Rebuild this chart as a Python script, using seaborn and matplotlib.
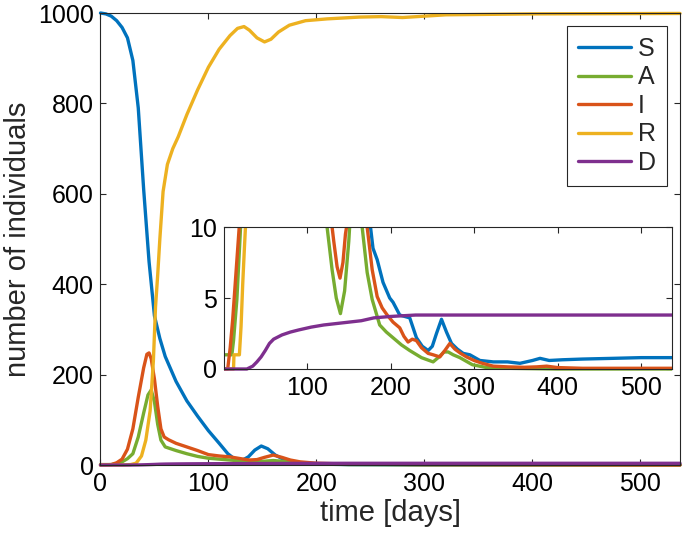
"""SAIRD epidemic curves with a zoomed inset, drawn with seaborn."""
import matplotlib
matplotlib.use('Agg')
import matplotlib.pyplot as plt
from matplotlib.patches import Rectangle
import seaborn as sns

# ---- main panel data (days, individuals) ----
s_t = [0, 5, 10, 15, 20, 25, 30, 35, 40, 45, 50, 55, 60, 70, 80, 90, 100, 110,
       118, 125, 131, 137, 143, 149, 155, 162, 170, 180, 190, 200, 230, 300, 400, 537]
s_v = [1000, 998, 993, 983, 968, 945, 895, 790, 610, 450, 330, 280, 240, 185, 142,
       108, 76, 48, 25, 12, 10, 18, 33, 42, 36, 22, 12, 6, 3, 2, 1, 0.5, 0.5, 0.8]

a_t = [0, 10, 15, 20, 25, 30, 35, 40, 44, 47, 50, 53, 56, 60, 70, 80, 90, 100,
       110, 120, 130, 140, 150, 160, 170, 180, 200, 230, 300, 537]
a_v = [1, 1, 3, 7, 14, 25, 62, 115, 155, 166, 140, 90, 55, 40, 32, 25, 19, 15,
       13, 11, 9, 7, 8, 10, 8, 5, 3, 1, 0.5, 0]

i_t = [0, 10, 15, 20, 25, 30, 35, 40, 43, 45, 47, 50, 53, 56, 59, 63, 70, 80, 90,
       100, 110, 120, 130, 138, 145, 152, 160, 168, 176, 185, 200, 230, 300, 537]
i_v = [0, 1, 5, 13, 35, 80, 150, 215, 245, 248, 235, 190, 130, 80, 62, 56, 48, 40,
       32, 23, 20, 18, 14, 11, 12, 17, 22, 17, 11, 7, 4, 2, 1, 0]

r_t = [0, 20, 28, 33, 38, 42, 46, 49, 51, 53, 55, 58, 62, 67, 72, 80, 90, 100, 110,
       120, 127, 133, 138, 145, 152, 158, 165, 175, 190, 210, 240, 260, 280, 320, 400, 537]
r_v = [0, 0, 1, 4, 20, 55, 120, 230, 350, 420, 500, 605, 665, 700, 726, 775, 830,
       880, 920, 950, 966, 970, 962, 945, 936, 942, 958, 973, 983, 987, 991, 992,
       990, 996, 998, 999]

# deceased (shared by both panels)
d_t = [0, 28, 35, 40, 45, 50, 55, 60, 70, 80, 90, 105, 120, 135, 150, 165, 180,
       200, 230, 537]
d_v = [0, 0, 0.2, 0.5, 0.85, 1.3, 1.8, 2.1, 2.4, 2.6, 2.75, 2.95, 3.1, 3.2, 3.3,
       3.4, 3.6, 3.7, 3.8, 3.8]

# ---- inset data (zoom on 0..10 individuals) ----
in_s_t = [0, 170, 175, 179, 184, 191, 199, 203, 211, 217, 223, 231, 238, 245, 250,
          255, 261, 267, 273, 280, 287, 295, 307, 323, 340, 355, 370, 379, 390, 406,
          430, 466, 500, 537]
in_s_v = [20, 14, 10.5, 8.5, 7.7, 6.1, 5.0, 4.7, 3.8, 3.7, 3.6, 2.2, 1.6, 1.3, 1.6,
          2.5, 3.5, 2.6, 1.8, 1.4, 1.1, 1.0, 0.6, 0.5, 0.5, 0.4, 0.6, 0.75, 0.6,
          0.65, 0.7, 0.75, 0.8, 0.8]

in_a_t = [0, 10, 12, 16, 20, 22, 120, 124, 130, 135, 140, 145, 150, 153, 163, 166,
          172, 178, 187, 195, 203, 213, 223, 237, 251, 259, 264, 269, 275, 283, 298,
          315, 340, 400, 537]
in_a_v = [1, 1, 2, 4.9, 9.5, 12, 12, 10, 7.0, 5.0, 3.9, 5.5, 9, 12, 12, 10, 6.8,
          4.9, 3.1, 2.6, 2.2, 1.7, 1.3, 0.8, 0.5, 0.9, 1.2, 1.2, 1.0, 0.8, 0.3, 0.1,
          0.05, 0, 0]

in_i_t = [0, 5, 8, 11, 14, 17, 20, 128, 132, 136, 139.5, 143, 146, 150, 170, 172,
          178, 184, 190, 196, 203, 211, 216, 221, 226, 231, 237, 245, 251, 259, 265,
          271, 277, 284, 291, 300, 310, 323, 340, 360, 375, 387, 400, 430, 537]
in_i_v = [0, 0, 1.5, 3.5, 6, 8.5, 11, 11, 9, 7.2, 6.4, 7.5, 9.5, 11, 11, 10, 7, 5.1,
          4.3, 3.8, 3.3, 2.9, 2.3, 1.9, 2.1, 2.0, 1.5, 1.1, 1.0, 0.85, 1.3, 1.8, 1.4,
          1.1, 0.85, 0.6, 0.4, 0.2, 0.15, 0.12, 0.15, 0.2, 0.1, 0.05, 0.05]

in_r_t = [0, 12, 12.5, 19, 21, 23, 25, 28, 30, 537]
in_r_v = [0, 0, 1, 1, 3, 6, 8.5, 12, 13, 999]

labels = ['S', 'A', 'I', 'R', 'D']
colors = ['#0072BD', '#77AC30', '#D95319', '#EDB120', '#7E2F8E']

sns.set_theme(style="ticks", rc={
    "axes.edgecolor": "#262626",
    "axes.linewidth": 0.8,
    "xtick.direction": "in",
    "ytick.direction": "in",
    "xtick.top": True,
    "ytick.right": True,
    "xtick.major.size": 4.5,
    "ytick.major.size": 4.5,
    "xtick.major.width": 0.8,
    "ytick.major.width": 0.8,
    "xtick.color": "#262626",
    "ytick.color": "#262626",
    "xtick.labelcolor": "black",
    "ytick.labelcolor": "black",
})
# narrow Helvetica-like face, as in the original MATLAB export
plt.rcParams['font.family'] = ['Liberation Sans Narrow', 'Liberation Sans', 'DejaVu Sans']

TICK_FS = 18
LABEL_FS = 21

fig = plt.figure(figsize=(6.85, 5.44), dpi=100)
ax = fig.add_axes([0.1467, 0.1452, 0.846, 0.8309])

main = [(s_t, s_v), (a_t, a_v), (i_t, i_v), (r_t, r_v), (d_t, d_v)]
for (t, v), lab, col in zip(main, labels, colors):
    sns.lineplot(x=t, y=v, ax=ax, color=col, linewidth=2.4, label=lab,
                 estimator=None, sort=False)
for ln in ax.lines:
    ln.set_clip_on(False)

ax.set_xlim(0, 537)
ax.set_ylim(0, 1000)
ax.set_xticks([0, 100, 200, 300, 400, 500])
ax.set_yticks([0, 200, 400, 600, 800, 1000])
ax.tick_params(labelsize=TICK_FS, pad=5)
ax.set_xlabel('time [days]', fontsize=LABEL_FS, labelpad=2)
ax.set_ylabel('number of individuals', fontsize=LABEL_FS, labelpad=4)
leg = ax.legend(loc='upper right', fontsize=TICK_FS, frameon=True, fancybox=False,
                edgecolor='#262626', framealpha=1, handlelength=2.1,
                handletextpad=0.3, labelspacing=0.18, borderpad=0.45,
                borderaxespad=0.5)
leg.get_frame().set_linewidth(0.8)

# ---- inset ----
axin = fig.add_axes([0.3263, 0.3217, 0.6547, 0.261])
axin.set_facecolor('white')
inset = [(in_s_t, in_s_v), (in_a_t, in_a_v), (in_i_t, in_i_v),
         (in_r_t, in_r_v), (d_t, d_v)]
for (t, v), col in zip(inset, colors):
    sns.lineplot(x=t, y=v, ax=axin, color=col, linewidth=2.4,
                 estimator=None, sort=False)
clip = Rectangle((0, -0.05), 1, 1.05, transform=axin.transAxes)
for ln in axin.lines:
    ln.set_clip_path(clip)
axin.set_xlim(0, 537)
axin.set_ylim(0, 10)
axin.set_xticks([100, 200, 300, 400, 500])
axin.set_yticks([0, 5, 10])
axin.tick_params(labelsize=TICK_FS, pad=5)

fig.savefig('out.png', dpi=100)
